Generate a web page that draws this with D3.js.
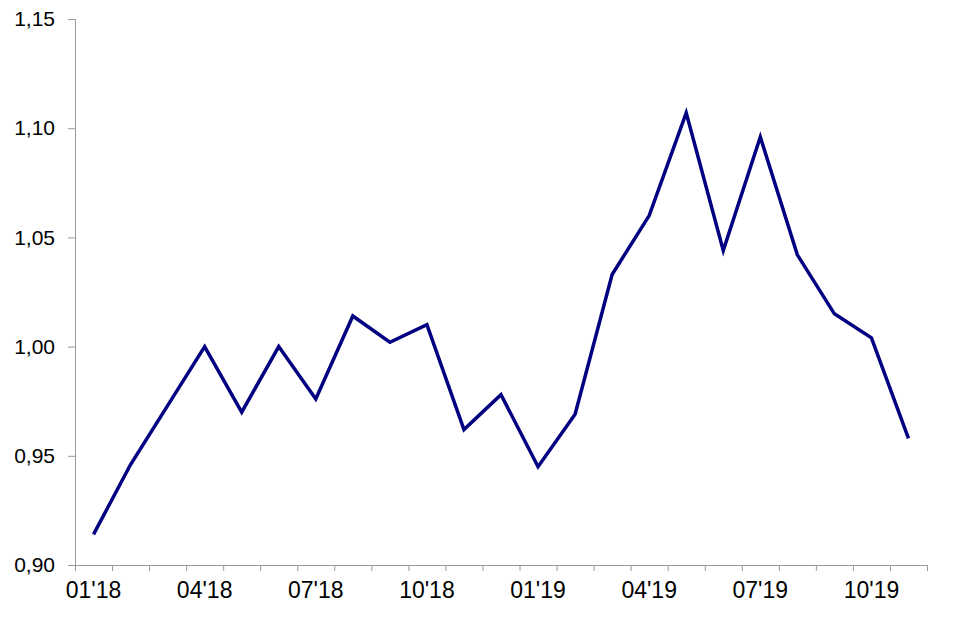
<!DOCTYPE html>
<html>
<head>
<meta charset="utf-8">
<script src="https://cdn.jsdelivr.net/npm/d3@7"></script>
<style>
  body { margin: 0; background: #fff; }
  svg { font-family: "Liberation Sans", Arial, sans-serif; }
</style>
</head>
<body>
<svg id="chart" width="955" height="617"></svg>
<script>
var months = ["01'18","02'18","03'18","04'18","05'18","06'18","07'18","08'18","09'18","10'18","11'18","12'18",
              "01'19","02'19","03'19","04'19","05'19","06'19","07'19","08'19","09'19","10'19","11'19"];
var values = [0.914, 0.946, 0.973, 1.000, 0.970, 1.000, 0.976, 1.014, 1.002, 1.010, 0.962, 0.978,
              0.945, 0.969, 1.033, 1.060, 1.107, 1.044, 1.096, 1.042, 1.015, 1.004, 0.958];
var yTicks = [0.90, 0.95, 1.00, 1.05, 1.10, 1.15];
var labelEvery = 3;

var svg = d3.select("#chart"),
    plotLeft = 75, plotRight = 927, plotTop = 19, plotBottom = 565;

var xscale = d3.scaleBand().domain(months).range([plotLeft, plotRight]);
var xedge = d3.scaleLinear().domain([0, months.length]).range([plotLeft, plotRight]);
var yscale = d3.scaleLinear().domain([0.90, 1.15]).range([plotBottom, plotTop]);

// y axis
var yAxis = svg.append("g")
    .attr("transform", "translate(" + plotLeft + ",0)")
    .call(d3.axisLeft(yscale)
        .tickValues(yTicks)
        .tickSize(7)
        .tickPadding(13)
        .tickFormat(function(d) { return d.toFixed(2).replace(".", ","); }));
yAxis.selectAll("path, line").attr("stroke", "#9a9a9a");
yAxis.selectAll("text").attr("font-size", 21).attr("fill", "#000");

// x axis: tick marks at month boundaries
var xTicks = svg.append("g")
    .attr("transform", "translate(0," + plotBottom + ")")
    .call(d3.axisBottom(xedge)
        .tickValues(d3.range(months.length + 1))
        .tickSize(6)
        .tickSizeOuter(6)
        .tickFormat(""));
xTicks.selectAll("path, line").attr("stroke", "#9a9a9a");

// x labels at month centres, every 3rd month
var xLabels = svg.append("g")
    .attr("transform", "translate(0," + plotBottom + ")")
    .call(d3.axisBottom(xscale)
        .tickValues(months.filter(function(d, i) { return i % labelEvery == 0; }))
        .tickSize(0)
        .tickPadding(17));
xLabels.select(".domain").remove();
xLabels.selectAll("text").attr("font-size", 23).attr("fill", "#000");

// line
var line = d3.line()
    .x(function(d, i) { return xscale(months[i]) + xscale.bandwidth() / 2; })
    .y(function(d) { return yscale(d); });

svg.append("path")
    .datum(values)
    .attr("fill", "none")
    .attr("stroke", "#000080")
    .attr("stroke-width", 3.5)
    .attr("stroke-linejoin", "miter")
    .attr("d", line);
</script>
</body>
</html>
